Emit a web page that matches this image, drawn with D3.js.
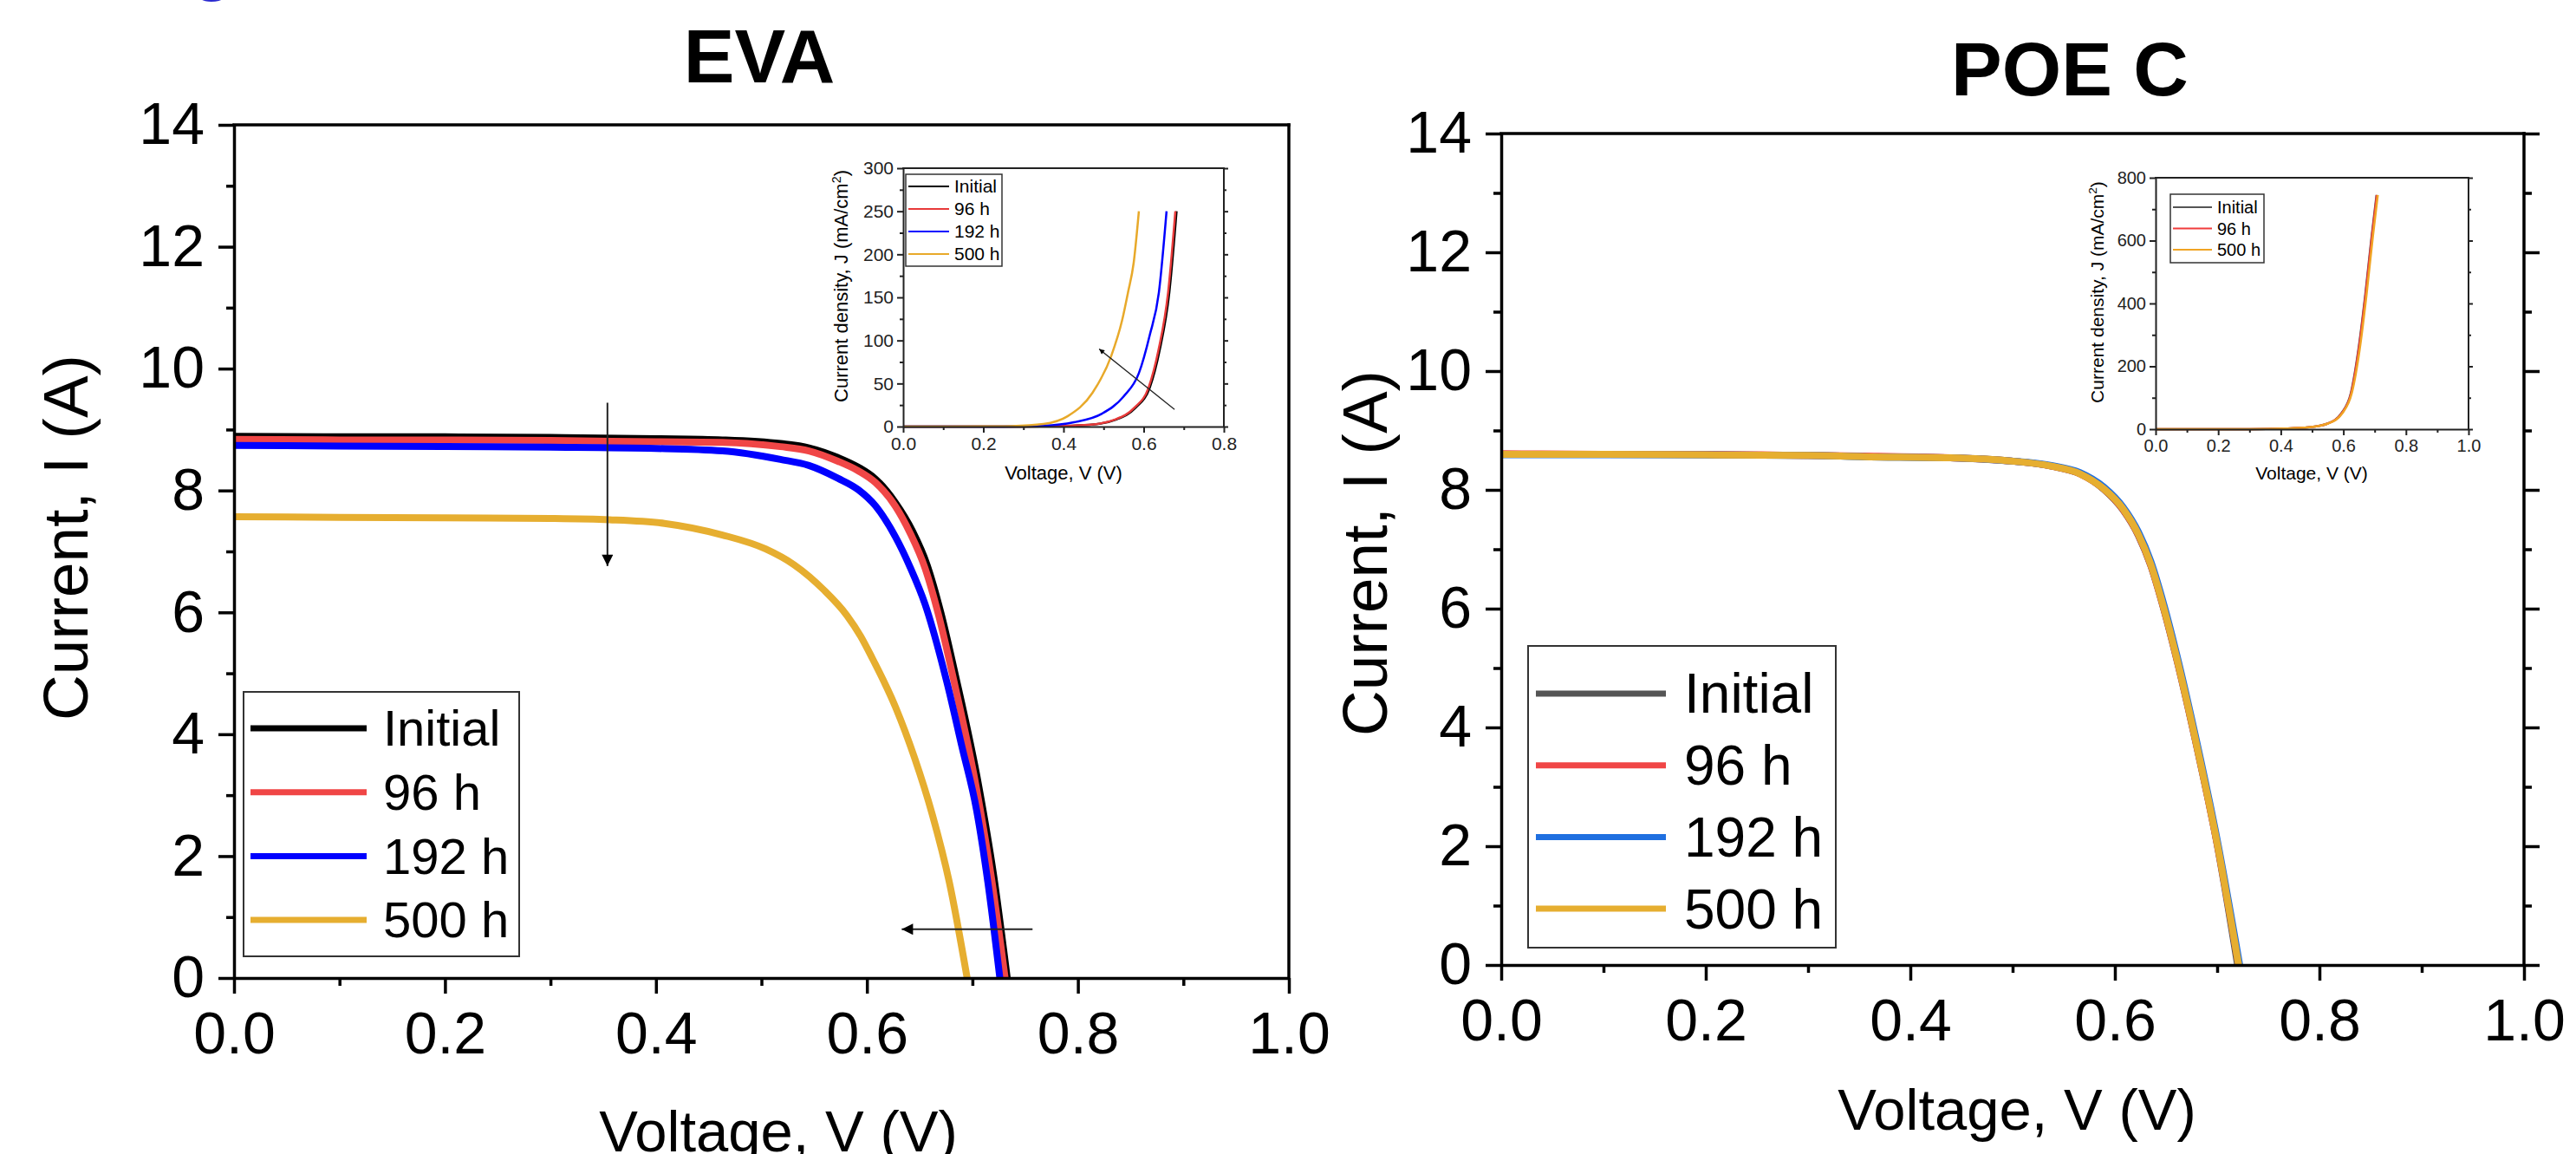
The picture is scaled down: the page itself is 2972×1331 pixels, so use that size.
<!DOCTYPE html>
<html>
<head>
<meta charset="utf-8">
<script src="https://cdn.jsdelivr.net/npm/d3@7"></script>
<style>
  body { margin: 0; background: #fff; }
  svg { display: block; }
</style>
</head>
<body>
<svg id="fig" width="2972" height="1331"></svg>
<script>
var FONT = '"Liberation Sans", Arial, Helvetica, sans-serif';

/* series labels */
var seriesNames = ['Initial', '96 h', '192 h', '500 h'];
var poeInsetNames = ['Initial', '96 h', '500 h'];

/* tick values */
var mainXMajor = [0, 0.2, 0.4, 0.6, 0.8, 1.0];
var mainXMinor = [0.1, 0.3, 0.5, 0.7, 0.9];
var mainYMajor = [0, 2, 4, 6, 8, 10, 12, 14];
var mainYMinor = [1, 3, 5, 7, 9, 11, 13];
var evaInsetXMajor = [0, 0.2, 0.4, 0.6, 0.8];
var evaInsetXMinor = [0.1, 0.3, 0.5, 0.7];
var evaInsetYMajor = [0, 50, 100, 150, 200, 250, 300];
var evaInsetYMinor = [25, 75, 125, 175, 225, 275];
var poeInsetXMajor = [0, 0.2, 0.4, 0.6, 0.8, 1.0];
var poeInsetXMinor = [0.1, 0.3, 0.5, 0.7, 0.9];
var poeInsetYMajor = [0, 200, 400, 600, 800];
var poeInsetYMinor = [100, 300, 500, 700];

/* EVA, I-V curves: [voltage (V), current (A)] */
var evaInitial = [[0, 8.89], [0.1, 8.88], [0.2, 8.88], [0.3, 8.87], [0.4, 8.85], [0.463, 8.83], [0.518, 8.77],
  [0.545, 8.70], [0.5725, 8.54], [0.592, 8.38], [0.608, 8.19], [0.627, 7.80], [0.643, 7.34], [0.657, 6.78],
  [0.670, 6.00], [0.684, 4.96], [0.706, 3.15], [0.720, 1.70], [0.733, 0]];
var eva96 = [[0, 8.84], [0.1, 8.83], [0.2, 8.83], [0.3, 8.82], [0.4, 8.80], [0.463, 8.79], [0.518, 8.72],
  [0.545, 8.65], [0.5725, 8.48], [0.592, 8.32], [0.608, 8.13], [0.627, 7.74], [0.641, 7.30], [0.655, 6.73],
  [0.668, 5.95], [0.682, 4.91], [0.704, 3.10], [0.718, 1.65], [0.731, 0]];
var eva192 = [[0, 8.74], [0.1, 8.73], [0.2, 8.72], [0.3, 8.71], [0.4, 8.69], [0.463, 8.65], [0.518, 8.51],
  [0.545, 8.41], [0.5725, 8.20], [0.592, 8.01], [0.608, 7.75], [0.627, 7.24], [0.641, 6.74], [0.655, 6.14],
  [0.676, 4.84], [0.690, 3.80], [0.704, 2.75], [0.716, 1.40], [0.726, 0]];
var eva500 = [[0, 7.57], [0.1, 7.56], [0.2, 7.55], [0.3, 7.54], [0.356, 7.52], [0.408, 7.46], [0.463, 7.27],
  [0.504, 7.04], [0.531, 6.78], [0.559, 6.37], [0.581, 5.95], [0.594, 5.61], [0.605, 5.25], [0.627, 4.45],
  [0.645, 3.62], [0.662, 2.68], [0.678, 1.58], [0.695, 0]];

/* POE C, I-V curves */
var poeInitial = [[0, 8.60], [0.1, 8.60], [0.2, 8.59], [0.3, 8.58], [0.354, 8.56], [0.439, 8.54], [0.4955, 8.49],
  [0.538, 8.40], [0.566, 8.27], [0.589, 8.01], [0.608, 7.66], [0.623, 7.23], [0.635, 6.73], [0.648, 5.98],
  [0.660, 5.18], [0.680, 3.68], [0.700, 2.03], [0.720, 0]];
var poe96 = [[0, 8.61], [0.1, 8.60], [0.2, 8.60], [0.3, 8.58], [0.354, 8.57], [0.439, 8.54], [0.4955, 8.49],
  [0.538, 8.40], [0.566, 8.27], [0.589, 8.02], [0.608, 7.67], [0.623, 7.24], [0.635, 6.74], [0.648, 5.99],
  [0.660, 5.19], [0.680, 3.69], [0.700, 2.04], [0.721, 0]];
var poe192 = [[0, 8.59], [0.1, 8.59], [0.2, 8.59], [0.3, 8.58], [0.354, 8.56], [0.439, 8.54], [0.4955, 8.49],
  [0.538, 8.41], [0.566, 8.29], [0.589, 8.05], [0.608, 7.71], [0.623, 7.29], [0.635, 6.80], [0.648, 6.06],
  [0.660, 5.26], [0.680, 3.76], [0.700, 2.11], [0.722, 0]];
var poe500 = [[0, 8.60], [0.1, 8.60], [0.2, 8.59], [0.3, 8.58], [0.354, 8.56], [0.439, 8.54], [0.4955, 8.49],
  [0.538, 8.40], [0.566, 8.27], [0.589, 8.02], [0.608, 7.68], [0.623, 7.25], [0.635, 6.75], [0.648, 6.00],
  [0.660, 5.20], [0.680, 3.70], [0.700, 2.05], [0.721, 0]];

/* EVA inset, J-V curves: [voltage (V), current density (mA/cm2)] */
var evaJInitial = [[0, 0], [0.30, 0.1], [0.39, 0.7], [0.465, 2], [0.53, 8], [0.58, 22], [0.615, 45],
  [0.640, 89], [0.664, 156], [0.682, 250]];
var evaJ96 = [[0, 0], [0.30, 0.1], [0.387, 0.7], [0.462, 2], [0.527, 8], [0.577, 22], [0.612, 45],
  [0.637, 89], [0.661, 156], [0.679, 250]];
var evaJ192 = [[0, 0], [0.25, 0.1], [0.35, 1], [0.426, 5], [0.496, 15], [0.55, 35], [0.588, 62],
  [0.615, 106], [0.638, 156], [0.657, 250]];
var evaJ500 = [[0, 0], [0.20, 0.2], [0.27, 0.6], [0.35, 3], [0.41, 12], [0.472, 39], [0.519, 82],
  [0.546, 123], [0.561, 156], [0.575, 190], [0.588, 250]];

/* POE C inset, J-V curves */
var poeJInitial = [[0, 0], [0.30, 0.2], [0.41, 2], [0.49, 6], [0.55, 18], [0.594, 51], [0.624, 115],
  [0.648, 253], [0.670, 428], [0.690, 611], [0.706, 745]];
var poeJ96 = [[0, 0], [0.30, 0.2], [0.41, 2], [0.49, 6], [0.55, 18], [0.595, 51], [0.625, 115],
  [0.649, 253], [0.671, 428], [0.691, 611], [0.707, 745]];
var poeJ500 = [[0, 0], [0.30, 0.2], [0.41, 2], [0.49, 6], [0.551, 18], [0.597, 51], [0.627, 115],
  [0.652, 253], [0.674, 428], [0.694, 611], [0.710, 745]];

/* annotation arrows, in data units */
var evaArrows = [{ from: [0.354, 9.44], to: [0.354, 6.76] }, { from: [0.757, 0.80], to: [0.633, 0.80] }];
var evaInsetArrows = [{ from: [0.677, 20], to: [0.489, 90] }];

var evaColors = ['#000000', '#f04646', '#0000ff', '#e6ae30'];
var poeColors = ['#555555', '#f04646', '#1f6fe0', '#e6ae30'];
var evaInsetColors = ['#000000', '#e83a3a', '#0000ff', '#e8a92a'];
var poeInsetColors = ['#555555', '#f03c3c', '#f0a424'];

var svg = d3.select('#fig');
svg.append('rect').attr('width', 2972).attr('height', 1331).attr('fill', '#fff');
var defs = svg.append('defs');

/* filled arrow heads, sized in user units */
function arrowMarker(id, len, wid) {
  defs.append('marker')
    .attr('id', id)
    .attr('viewBox', '0 0 10 10')
    .attr('refX', 10)
    .attr('refY', 5)
    .attr('markerUnits', 'userSpaceOnUse')
    .attr('markerWidth', len)
    .attr('markerHeight', wid)
    .attr('orient', 'auto')
    .append('path')
    .attr('d', 'M 0 0 L 10 5 L 0 10 z')
    .attr('fill', '#000');
}
arrowMarker('headMain', 27, 13);
arrowMarker('headInset', 10, 6);

function styleAxis(sel, c) {
  sel.attr('font-family', FONT).attr('font-size', c.font);
  sel.select('.domain').attr('stroke', c.color).attr('stroke-width', c.width);
  sel.selectAll('.tick line').attr('stroke', c.color).attr('stroke-width', c.width);
  sel.selectAll('.tick text').attr('fill', c.color);
}

/* axes, minor ticks and the box around a panel */
function drawFrame(g, x, y, c) {
  var y0 = y.range()[0], y1 = y.range()[1], x0 = x.range()[0], x1 = x.range()[1];
  var noLabel = function () { return ''; };

  g.append('g').attr('transform', 'translate(0,' + y0 + ')')
    .call(d3.axisBottom(x).tickValues(c.xMinor).tickFormat(noLabel).tickSize(c.minor).tickSizeOuter(0))
    .call(styleAxis, c).select('.domain').remove();
  g.append('g').attr('transform', 'translate(' + x0 + ',0)')
    .call(d3.axisLeft(y).tickValues(c.yMinor).tickFormat(noLabel).tickSize(c.minor).tickSizeOuter(0))
    .call(styleAxis, c).select('.domain').remove();

  if (c.rightTicks) {
    g.append('g').attr('transform', 'translate(' + x1 + ',0)')
      .call(d3.axisRight(y).tickValues(c.yMajor).tickFormat(noLabel).tickSize(c.rightMajor).tickSizeOuter(0))
      .call(styleAxis, c).select('.domain').remove();
    g.append('g').attr('transform', 'translate(' + x1 + ',0)')
      .call(d3.axisRight(y).tickValues(c.yMinor).tickFormat(noLabel).tickSize(c.rightMinor).tickSizeOuter(0))
      .call(styleAxis, c).select('.domain').remove();
  }

  g.append('line').attr('x1', x0).attr('x2', x1).attr('y1', y1).attr('y2', y1)
    .attr('stroke', c.color).attr('stroke-width', c.width).attr('stroke-linecap', 'square');
  g.append('line').attr('x1', x1).attr('x2', x1).attr('y1', y0).attr('y2', y1)
    .attr('stroke', c.color).attr('stroke-width', c.width).attr('stroke-linecap', 'square');

  g.append('g').attr('transform', 'translate(0,' + y0 + ')')
    .call(d3.axisBottom(x).tickValues(c.xMajor).tickFormat(d3.format('.1f'))
      .tickSize(c.major).tickSizeOuter(0).tickPadding(c.xPad))
    .call(styleAxis, c);
  g.append('g').attr('transform', 'translate(' + x0 + ',0)')
    .call(d3.axisLeft(y).tickValues(c.yMajor).tickFormat(d3.format('d'))
      .tickSize(c.major).tickSizeOuter(0).tickPadding(c.yPad))
    .call(styleAxis, c);
}

function drawCurves(g, x, y, data, colors, width) {
  var line = d3.line()
    .x(function (d) { return x(d[0]); })
    .y(function (d) { return y(d[1]); })
    .curve(d3.curveMonotoneX);
  g.selectAll(null)
    .data(data)
    .enter()
    .append('path')
    .attr('d', line)
    .attr('fill', 'none')
    .attr('stroke', function (d, i) { return colors[i]; })
    .attr('stroke-width', width)
    .attr('stroke-linejoin', 'round');
}

function drawLegend(g, box, names, colors, c) {
  g.append('rect')
    .attr('x', box[0]).attr('y', box[1]).attr('width', box[2]).attr('height', box[3])
    .attr('fill', '#fff').attr('stroke', c.border).attr('stroke-width', c.borderWidth);
  var item = g.selectAll(null).data(names).enter().append('g')
    .attr('transform', function (d, i) {
      return 'translate(' + box[0] + ',' + (box[1] + c.first + i * c.step) + ')';
    });
  item.append('line')
    .attr('x1', c.lineX0).attr('x2', c.lineX1)
    .attr('stroke', function (d, i) { return colors[i]; })
    .attr('stroke-width', c.lineWidth);
  item.append('text')
    .attr('x', c.textX)
    .attr('dy', '0.35em')
    .attr('font-family', FONT)
    .attr('font-size', c.font)
    .attr('fill', '#000')
    .text(function (d) { return d; });
}

function drawArrows(g, x, y, arrows, marker, width) {
  g.selectAll(null).data(arrows).enter().append('line')
    .attr('x1', function (d) { return x(d.from[0]); })
    .attr('y1', function (d) { return y(d.from[1]); })
    .attr('x2', function (d) { return x(d.to[0]); })
    .attr('y2', function (d) { return y(d.to[1]); })
    .attr('stroke', '#222')
    .attr('stroke-width', width)
    .attr('marker-end', 'url(#' + marker + ')');
}

function addText(g, str, x, y, size, opts) {
  opts = opts || {};
  var t = g.append('text')
    .attr('transform', 'translate(' + x + ',' + y + ')' + (opts.rotate ? ' rotate(-90)' : ''))
    .attr('text-anchor', 'middle')
    .attr('font-family', FONT)
    .attr('font-size', size)
    .attr('font-weight', opts.bold ? 'bold' : 'normal')
    .attr('fill', opts.fill || '#000');
  if (opts.sup) {
    t.append('tspan').text(str);
    t.append('tspan').attr('dy', -size * 0.38).attr('font-size', size * 0.65).text(opts.sup);
    t.append('tspan').attr('dy', size * 0.38).text(opts.after);
  } else {
    t.text(str);
  }
  return t;
}

var mainFrame = {
  xMajor: mainXMajor, xMinor: mainXMinor, yMajor: mainYMajor, yMinor: mainYMinor,
  major: 18, minor: 9, width: 3.5, font: 68, xPad: 21, yPad: 16, color: '#000'
};

/* ---- top-left fragment of the figure heading ---- */
addText(svg, 'g', 245, -15, 80, { bold: true, fill: '#2a2ad0' });

/* ---- EVA panel ---- */
var ev = svg.append('g');
var evX = d3.scaleLinear().domain([0, 1]).range([270, 1487]);
var evY = d3.scaleLinear().domain([0, 14]).range([1128, 144]);
drawCurves(ev, evX, evY, [evaInitial, eva96, eva192, eva500], evaColors, 8);
drawFrame(ev, evX, evY, Object.assign({}, mainFrame, { rightTicks: false }));
drawArrows(ev, evX, evY, evaArrows, 'headMain', 2);
drawLegend(ev, [281, 798, 318, 305], seriesNames, evaColors, {
  border: '#333', borderWidth: 2, first: 42, step: 73.7,
  lineX0: 8, lineX1: 142, lineWidth: 7, textX: 161, font: 58
});
addText(ev, 'EVA', 876, 95, 88, { bold: true });
addText(ev, 'Current, I (A)', 101, 620, 73, { rotate: true });
addText(ev, 'Voltage, V (V)', 898, 1328, 67);

/* EVA inset */
var ei = svg.append('g');
var eiX = d3.scaleLinear().domain([0, 0.8]).range([1042, 1412]);
var eiY = d3.scaleLinear().domain([0, 300]).range([492, 194]);
drawCurves(ei, eiX, eiY, [evaJInitial, evaJ96, evaJ192, evaJ500], evaInsetColors, 2.5);
drawFrame(ei, eiX, eiY, {
  xMajor: evaInsetXMajor, xMinor: evaInsetXMinor, yMajor: evaInsetYMajor, yMinor: evaInsetYMinor,
  major: 7, minor: 4, width: 2, font: 21, xPad: 5, yPad: 4, color: '#222',
  rightTicks: true, rightMajor: 5, rightMinor: 3
});
drawArrows(ei, eiX, eiY, evaInsetArrows, 'headInset', 1.3);
drawLegend(ei, [1045, 201, 111, 106], seriesNames, evaInsetColors, {
  border: '#333', borderWidth: 1.5, first: 14, step: 26,
  lineX0: 3, lineX1: 50, lineWidth: 2, textX: 56, font: 21
});
addText(ei, 'Current density, J (mA/cm', 978, 330, 22, { rotate: true, sup: '2', after: ')' });
addText(ei, 'Voltage, V (V)', 1227, 553, 22);

/* ---- POE C panel ---- */
var po = svg.append('g');
var poX = d3.scaleLinear().domain([0, 1]).range([1732, 2912]);
var poY = d3.scaleLinear().domain([0, 14]).range([1113, 154]);
drawCurves(po, poX, poY, [poeInitial, poe96, poe192, poe500], poeColors, 8);
drawFrame(po, poX, poY, Object.assign({}, mainFrame, { rightTicks: true, rightMajor: 18, rightMinor: 9 }));
drawLegend(po, [1763, 745, 355, 348], seriesNames, poeColors, {
  border: '#333', borderWidth: 2, first: 55, step: 82.7,
  lineX0: 9, lineX1: 159, lineWidth: 7, textX: 180, font: 64
});
addText(po, 'POE C', 2388, 110, 88, { bold: true });
addText(po, 'Current, I (A)', 1600, 638, 73, { rotate: true });
addText(po, 'Voltage, V (V)', 2327, 1303, 67);

/* POE C inset */
var pi = svg.append('g');
var piX = d3.scaleLinear().domain([0, 1]).range([2487, 2848]);
var piY = d3.scaleLinear().domain([0, 800]).range([495, 205]);
drawCurves(pi, piX, piY, [poeJInitial, poeJ96, poeJ500], poeInsetColors, 2.5);
drawFrame(pi, piX, piY, {
  xMajor: poeInsetXMajor, xMinor: poeInsetXMinor, yMajor: poeInsetYMajor, yMinor: poeInsetYMinor,
  major: 7, minor: 4, width: 2, font: 20, xPad: 5, yPad: 4, color: '#222',
  rightTicks: true, rightMajor: 5, rightMinor: 3
});
drawLegend(pi, [2504, 224, 108, 79], poeInsetNames, poeInsetColors, {
  border: '#333', borderWidth: 1.5, first: 15, step: 24.5,
  lineX0: 3, lineX1: 48, lineWidth: 2, textX: 54, font: 20
});
addText(pi, 'Current density, J (mA/cm', 2427, 337, 21, { rotate: true, sup: '2', after: ')' });
addText(pi, 'Voltage, V (V)', 2667, 553, 21);
</script>
</body>
</html>
